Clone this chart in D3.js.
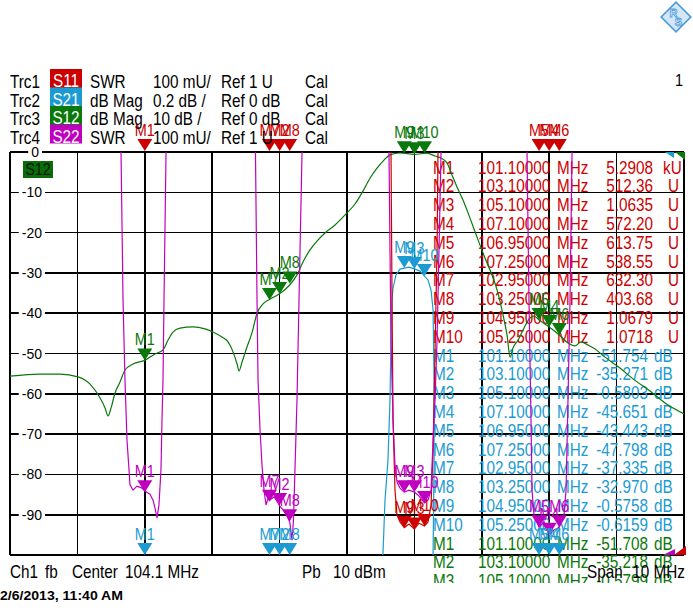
<!DOCTYPE html>
<html><head><meta charset="utf-8">
<script src="https://cdn.jsdelivr.net/npm/d3@7"></script>
<style>body{margin:0;background:#fff}svg{display:block}text{font-family:"Liberation Sans",Arial,sans-serif}</style>
</head><body><svg id="c" width="693" height="611"></svg>
<script>
// ---------------- DATA ----------------
const centerMHz = 104.1, spanMHz = 10;
const yTicksDB = [0, -10, -20, -30, -40, -50, -60, -70, -80, -90];

const traceNames   = ["Trc1", "Trc2", "Trc3", "Trc4"];
const traceParams  = ["S11", "S21", "S12", "S22"];
const traceFormats = ["SWR", "dB Mag", "dB Mag", "SWR"];
const traceScales  = ["100 mU/", "0.2 dB /", "10 dB /", "100 mU/"];
const traceRefs    = ["Ref 1 U", "Ref 0 dB", "Ref 0 dB", "Ref 1 U"];

// S12 (Trc3), dB, 10 dB/div
const s12Freq = [99.1,99.545,99.842,100.109,100.287,100.435,100.51,100.554,100.6,100.658,100.732,100.806,100.925,101.1,101.251,101.37,101.444,101.518,101.622,101.815,101.993,102.112,102.245,102.335,102.409,102.469,102.498,102.543,102.616,102.69,102.765,102.854,102.95,103.1,103.25,103.358,103.447,103.551,103.655,103.774,103.922,104.1,104.219,104.337,104.441,104.545,104.649,104.738,104.886,105.1,105.287,105.406,105.495,105.584,105.658,105.732,105.821,105.925,106.044,106.148,106.222,106.326,106.415,106.474,106.519,106.563,106.638,106.726,106.815,106.875,106.95,107.1,107.25,107.379,107.483,107.572,107.676,107.78,107.928,108.15,108.343,108.596,108.818,109.1];
const s12DB = [-55.6,-55.1,-55.1,-55.8,-57.6,-61.0,-63.5,-65.5,-63.5,-59.8,-57.1,-54.1,-52.6,-51.7,-50.1,-49.1,-46.7,-44.7,-43.7,-43.4,-43.9,-44.7,-45.9,-47.1,-49.6,-52.6,-54.3,-52.1,-48.4,-44.9,-40.0,-37.7,-36.6,-35.2,-33.0,-30.5,-27.3,-24.3,-22.1,-20.1,-18.1,-15.1,-12.9,-9.7,-6.5,-4.0,-2.0,-0.7,-0.25,-0.58,-0.3,-1.0,-1.5,-2.7,-5.7,-8.7,-11.9,-16.4,-21.8,-26.3,-29.3,-34.2,-40.4,-45.4,-50.9,-48.6,-46.7,-43.7,-41.2,-40.7,-41.7,-43.4,-45.4,-47.4,-48.1,-47.1,-47.9,-48.9,-50.9,-53.6,-56.3,-59.3,-62.3,-65.0];

// S21 (Trc2), dB, 0.2 dB/div
const s21Freq = [104.605,104.634,104.664,104.708,104.738,104.753,104.768,104.783,104.827,104.886,104.95,105.02,105.1,105.183,105.25,105.302,105.347,105.377,105.392,105.392,105.377,105.377];
const s21DB   = [-2.074,-1.99,-1.727,-1.529,-1.231,-0.933,-0.734,-0.675,-0.610,-0.581,-0.576,-0.571,-0.580,-0.591,-0.616,-0.635,-0.685,-0.784,-1.131,-1.529,-2.0,-2.074];

// S11 (Trc1), SWR, 100 mU/div
const s11Freq = [104.753,104.753,104.768,104.783,104.812,104.842,104.886,104.95,105.02,105.1,105.168,105.25,105.302,105.347,105.377,105.406,105.436,105.45,105.45];
const s11SWR  = [2.03,2.0,1.633,1.335,1.161,1.099,1.082,1.068,1.077,1.064,1.079,1.072,1.082,1.124,1.261,1.509,1.757,2.0,2.03];

// S22 (Trc4), SWR, 100 mU/div
const s22Freq = [99.1,
 100.732,100.747,100.777,100.806,100.836,100.866,100.88,100.925,100.984,101.058,101.1,101.177,101.222,101.251,101.281,101.31,101.34,101.355,101.37,101.385,101.415,101.415,
 102.735,102.742,102.765,102.78,102.81,102.839,102.869,102.899,102.929,102.95,103.018,103.077,103.1,103.151,103.21,103.25,103.285,103.306,103.328,103.358,103.388,103.433,103.44,
 104.723,104.723,104.738,104.753,104.783,104.812,104.842,104.886,104.95,105.02,105.1,105.168,105.25,105.302,105.347,105.377,105.406,105.436,105.465,105.495,105.495,
 106.771,106.771,106.8,106.83,106.845,106.875,106.95,107.023,107.1,107.171,107.25,107.32,107.35,107.379,107.409,107.439,107.439,
 109.1];
const s22SWR = [2.5,
 2.03,2.0,1.633,1.434,1.285,1.211,1.174,1.161,1.171,1.166,1.159,1.151,1.136,1.117,1.092,1.124,1.211,1.335,1.434,1.633,2.0,2.03,
 2.03,2.0,1.633,1.434,1.31,1.223,1.161,1.124,1.141,1.136,1.144,1.129,1.122,1.112,1.097,1.082,1.037,1.087,1.211,1.385,1.633,2.0,2.03,
 2.03,2.0,1.757,1.533,1.335,1.223,1.181,1.166,1.156,1.161,1.156,1.146,1.129,1.136,1.161,1.285,1.385,1.533,1.757,2.0,2.03,
 2.03,2.0,1.633,1.335,1.161,1.099,1.069,1.082,1.05,1.062,1.069,1.099,1.161,1.385,1.633,2.0,2.03,
 2.5];

// Markers
const markerNames = ["M1","M2","M3","M4","M5","M6","M7","M8","M9","M10"];
const markerFreqs = [101.1,103.1,105.1,107.1,106.95,107.25,102.95,103.25,104.95,105.25];
const s11MarkerVals = [5290.8,512.36,1.0635,572.20,613.75,538.55,632.30,403.68,1.0679,1.0718];
const s21MarkerVals = [-51.754,-35.271,-0.5803,-45.651,-43.443,-47.798,-37.335,-32.970,-0.5758,-0.6159];
const s12MarkerVals = [-51.708,-35.218,-0.5799,-43.4,-41.7,-45.4,-36.7,-32.6,-0.3,-0.3];
const s22MarkerVals = [1.156,1.124,1.156,1.05,1.069,1.069,1.132,1.084,1.156,1.129];
const s12TableRows = 3; // rows visible before the table is cut off

// ---------------- STYLE / LAYOUT ----------------
const RED = "#cc0000", BLUE = "#1b9bd1", GREEN = "#0b780b", MAG = "#c000c0";
const paramColors = [RED, BLUE, GREEN, MAG];
const L = 10, R = 684, T = 152, B = 555;
const FONT_SX = 0.85;

const svg = d3.select("#c");
svg.append("rect").attr("width", 693).attr("height", 611).attr("fill", "#fff");

const x = d3.scaleLinear().domain([centerMHz - spanMHz / 2, centerMHz + spanMHz / 2]).range([L, R]);
const yS12 = d3.scaleLinear().domain([0, -100]).range([T, B]);
const yS21 = d3.scaleLinear().domain([0, -2]).range([T, B]);
const ySWR = d3.scaleLinear().domain([1, 2]).range([B, T]);

function txt(g, px, py, s, o = {}) {
  const t = g.append("text")
    .attr("transform", `translate(${px},${py}) scale(${o.sx ?? FONT_SX},1)`)
    .attr("font-size", o.size ?? 18)
    .attr("fill", o.fill ?? "#000")
    .attr("text-anchor", o.anchor ?? "start")
    .text(s);
  if (o.weight) t.attr("font-weight", o.weight);
  return t;
}

// ---- grid ----
const grid = svg.append("g").attr("stroke", "#000").attr("stroke-width", 1.6).attr("shape-rendering", "crispEdges");
const gridFreqs = d3.range(11).map(i => x.domain()[0] + i * (spanMHz / 10));
grid.selectAll("line.v").data(gridFreqs).join("line")
  .attr("x1", d => x(d)).attr("x2", d => x(d)).attr("y1", T).attr("y2", B);
const gridDB = yS12.ticks(10);
grid.selectAll("line.h").data(gridDB).join("line")
  .attr("x1", L).attr("x2", R).attr("y1", d => yS12(d)).attr("y2", d => yS12(d));

// ---- y axis labels (on the grid lines) ----
const axisG = svg.append("g");
yTicksDB.forEach(v => {
  const ax = v === 0 ? 39 : 42;
  const t = axisG.append("text").attr("x", ax).attr("y", yS12(v) + 5).attr("text-anchor", "end")
    .attr("font-size", 14).text(String(v));
  const w = t.node().getComputedTextLength();
  axisG.insert("rect", "text").attr("x", ax - w - 3).attr("y", yS12(v) - 7).attr("width", w + 6).attr("height", 14).attr("fill", "#fff");
});

// S12 badge
svg.append("rect").attr("x", 23).attr("y", 161).attr("width", 30).attr("height", 17).attr("fill", "#0a6b0a");
txt(svg, 38, 175, "S12", { anchor: "middle", fill: "#021a02", size: 17 });

// ---- marker table ----
const tableClip = svg.append("clipPath").attr("id", "tclip");
tableClip.append("rect").attr("x", 0).attr("y", 0).attr("width", 693).attr("height", 583);
const table = svg.append("g").attr("clip-path", "url(#tclip)");
function fmtSWR(v) {
  if (v >= 1000) return [(v / 1000).toFixed(4), "kU"];
  if (v >= 100) return [v.toFixed(2), "U"];
  return [v.toFixed(4), "U"];
}
function fmtDB(v) { return [Math.abs(v) >= 10 ? v.toFixed(3) : v.toFixed(4), "dB"]; }
const rows = [];
markerNames.forEach((n, i) => rows.push({ n, f: markerFreqs[i], v: fmtSWR(s11MarkerVals[i]), c: RED }));
markerNames.forEach((n, i) => rows.push({ n, f: markerFreqs[i], v: fmtDB(s21MarkerVals[i]), c: BLUE }));
markerNames.slice(0, s12TableRows).forEach((n, i) => rows.push({ n, f: markerFreqs[i], v: fmtDB(s12MarkerVals[i]), c: GREEN }));
rows.forEach((r, i) => {
  const by = 173.5 + i * 18.8;
  txt(table, 433, by, r.n, { fill: r.c });
  txt(table, 478, by, r.f.toFixed(5), { fill: r.c });
  txt(table, 557, by, "MHz", { fill: r.c });
  const unit = r.v[1];
  txt(table, unit === "dB" ? 648 : 653, by, r.v[0], { fill: r.c, anchor: "end" });
  txt(table, unit === "dB" ? 654 : unit === "kU" ? 663 : 668, by, unit, { fill: r.c });
});

// ---- traces ----
svg.append("clipPath").attr("id", "pclip").append("rect").attr("x", L).attr("y", T).attr("width", R - L).attr("height", B - T);
const traces = svg.append("g").attr("clip-path", "url(#pclip)").attr("fill", "none").attr("stroke-width", 1.2);
function drawTrace(fr, vals, ys, color, curve) {
  const line = d3.line().x(d => x(d[0])).y(d => ys(d[1])).curve(curve || d3.curveLinear);
  traces.append("path").datum(d3.zip(fr, vals)).attr("d", line).attr("stroke", color);
}
drawTrace(s12Freq, s12DB, yS12, GREEN, d3.curveMonotoneX);
drawTrace(s21Freq, s21DB, yS21, BLUE);
drawTrace(s11Freq, s11SWR, ySWR, RED);
drawTrace(s22Freq, s22SWR, ySWR, MAG);

// edge indicators
svg.append("polygon").attr("points", "665,152 674,152 674,158").attr("fill", BLUE);
svg.append("polygon").attr("points", "675,152 685,152 685,160").attr("fill", GREEN);
svg.append("polygon").attr("points", "663,555 675,549 675,555").attr("fill", MAG);
svg.append("polygon").attr("points", "674,555 686,546 686,555").attr("fill", RED);

// ---- markers ----
const mk = svg.append("g");
function drawMarkers(vals, ys, color) {
  vals.forEach((v, i) => {
    const mx = x(markerFreqs[i]);
    const tip = Math.max(T - 1, Math.min(B, ys(v)));
    mk.append("path").attr("d", `M${mx - 7.5},${tip - 12}L${mx + 7.5},${tip - 12}L${mx},${tip}Z`).attr("fill", color);
    txt(mk, mx, tip - 15, markerNames[i], { fill: color, size: 17, anchor: "middle" });
  });
}
drawMarkers(s11MarkerVals, ySWR, RED);
drawMarkers(s22MarkerVals, ySWR, MAG);
drawMarkers(s21MarkerVals, yS21, BLUE);
drawMarkers(s12MarkerVals, yS12, GREEN);

// ---- header ----
const hd = svg.append("g");
traceNames.forEach((n, i) => {
  const by = 88 + i * 18.5;
  txt(hd, 10, by, n);
  hd.append("rect").attr("x", 50).attr("y", by - 19).attr("width", 32).attr("height", 19).attr("fill", paramColors[i]);
  txt(hd, 66, by - 1, traceParams[i], { anchor: "middle", fill: "#fff" });
  txt(hd, 90, by, traceFormats[i]);
  txt(hd, 153, by, traceScales[i]);
  txt(hd, 221, by, traceRefs[i]);
  txt(hd, 305, by, "Cal");
});
txt(hd, 683, 86, "1", { anchor: "end", size: 17 });

// R&S logo
const logo = svg.append("g").attr("transform", "translate(676,17)");
logo.append("rect").attr("x", -10.5).attr("y", -10.5).attr("width", 21).attr("height", 21)
  .attr("transform", "rotate(45)").attr("fill", "#d4e7f7").attr("stroke", "#4b9ad9").attr("stroke-width", 1.6);
logo.append("text").attr("x", -2.5).attr("y", 0).attr("text-anchor", "middle").attr("font-size", 11).attr("font-weight", "bold")
  .attr("fill", "#fff").attr("stroke", "#4b9ad9").attr("stroke-width", 0.8).text("R");
logo.append("text").attr("x", 2.5).attr("y", 9).attr("text-anchor", "middle").attr("font-size", 11).attr("font-weight", "bold")
  .attr("fill", "#fff").attr("stroke", "#4b9ad9").attr("stroke-width", 0.8).text("S");

// ---- footer ----
const ft = svg.append("g");
txt(ft, 10, 578, "Ch1");
txt(ft, 45, 578, "fb");
txt(ft, 72, 578, "Center");
txt(ft, 125, 578, `${centerMHz} MHz`);
txt(ft, 302, 578, "Pb");
txt(ft, 333, 578, "10 dBm");
txt(ft, 587, 578, "Span");
txt(ft, 685, 578, `${spanMHz} MHz`, { anchor: "end" });
ft.append("text").attr("x", 0).attr("y", 600).attr("font-size", 13).attr("font-weight", "bold")
  .attr("textLength", 123).attr("lengthAdjust", "spacingAndGlyphs").text("2/6/2013, 11:40 AM");
</script></body></html>
